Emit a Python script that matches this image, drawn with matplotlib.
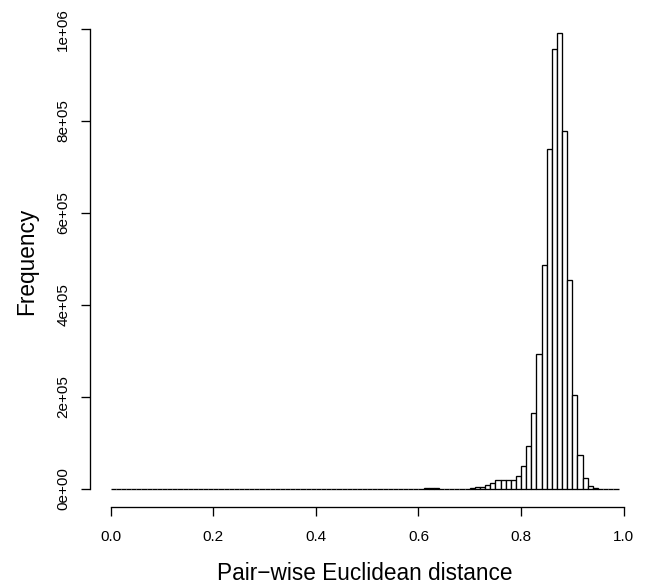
import numpy as np
import matplotlib
matplotlib.use("Agg")
import matplotlib.pyplot as plt

# Histogram data: bins of width 0.01 from 0.00 to 0.99
bin_width = 0.01
bin_starts = [round(i * bin_width, 2) for i in range(99)]
counts = [0] * 61 + [
    1500, 2000, 2000, 1000,          # 0.61 - 0.64
    400, 400, 500, 700,              # 0.65 - 0.68
    1000, 2000, 3600, 5000, 8700,    # 0.69 - 0.73
    13800, 19000, 20000, 20000, 20000,  # 0.74 - 0.78
    28000, 50000, 93500, 165000, 293000,  # 0.79 - 0.83
    488000, 739000, 957000, 991000, 779000,  # 0.84 - 0.88
    455000, 204000, 73000, 23000, 6500,  # 0.89 - 0.93
    1500, 300, 0, 0, 0               # 0.94 - 0.98
]

x_ticks = [0.0, 0.2, 0.4, 0.6, 0.8, 1.0]
x_tick_labels = ["0.0", "0.2", "0.4", "0.6", "0.8", "1.0"]
y_ticks = [0, 2e5, 4e5, 6e5, 8e5, 1e6]
y_tick_labels = ["0e+00", "2e+05", "4e+05", "6e+05", "8e+05", "1e+06"]

plt.rcParams['font.family'] = ['Liberation Sans', 'DejaVu Sans']

fig = plt.figure(figsize=(6.46, 5.85), dpi=100)
ax = fig.add_axes([0.1399, 0.133, 0.849, 0.8414])

ax.bar(bin_starts, counts, width=bin_width, align='edge',
       color='white', edgecolor='black', linewidth=0.95)

xmin, xmax = 0.0, 0.99
ymax = max(counts)
ax.set_xlim(xmin - 0.04 * (xmax - xmin), xmax + 0.04 * (xmax - xmin))
ax.set_ylim(-0.04 * ymax, ymax * 1.04)

for s in ['top', 'right']:
    ax.spines[s].set_visible(False)
ax.spines['left'].set_bounds(0, 1e6)
ax.spines['bottom'].set_bounds(0, 1.0)
for s in ['left', 'bottom']:
    ax.spines[s].set_linewidth(0.95)

ax.set_xticks(x_ticks)
ax.set_xticklabels(x_tick_labels)
ax.set_yticks(y_ticks)
ax.set_yticklabels(y_tick_labels, rotation=90, va='center')
ax.tick_params(axis='both', direction='out', length=6.5, width=0.95,
               labelsize=11)
ax.tick_params(axis='x', pad=10)
ax.tick_params(axis='y', pad=8)

fig.text(364.6 / 646, (585 - 580) / 585, "Pair\u2212wise Euclidean distance",
         ha='center', va='baseline', fontsize=16.3)
fig.text(33 / 646, (585 - 261) / 585, "Frequency", rotation=90,
         rotation_mode='anchor', ha='center', va='baseline', fontsize=16.3)

fig.savefig("out.png", dpi=100)
